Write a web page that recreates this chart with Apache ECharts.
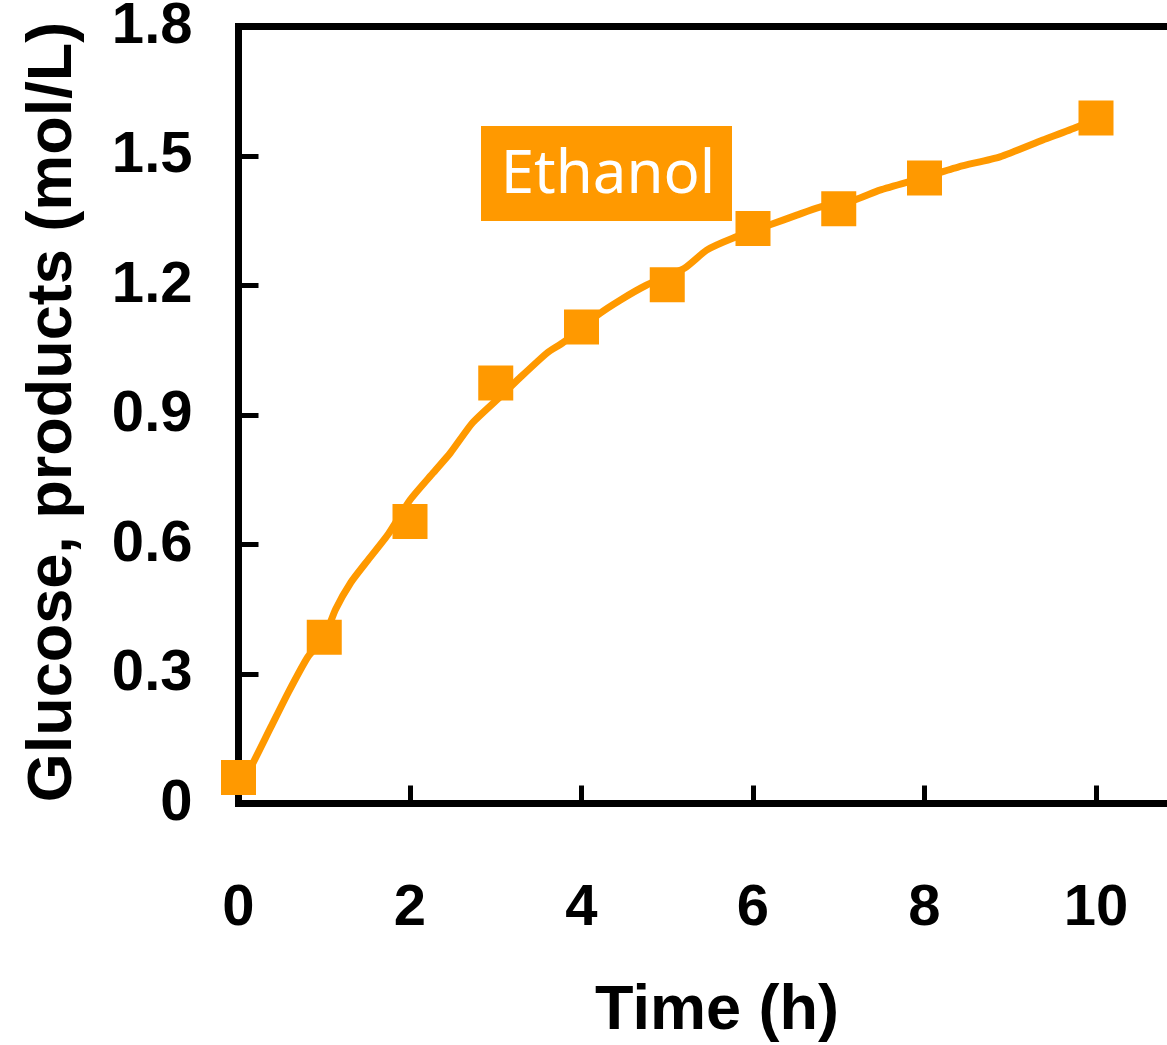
<!DOCTYPE html>
<html>
<head>
<meta charset="utf-8">
<title>Ethanol</title>
<script src="https://cdn.jsdelivr.net/npm/echarts@6/dist/echarts.min.js"></script>
<style>
    html, body { margin: 0; padding: 0; background: #fff; }
    #chart { width: 1167px; height: 1045px; }
</style>
</head>
<body>
<div id="chart"></div>
<script>
// measured points (h, mol/L)
let timeH = [0, 1, 2, 3, 4, 5, 6, 7, 8, 10]
let ethanol = [0.06, 0.385, 0.653, 0.974, 1.104, 1.202, 1.332, 1.378, 1.449, 1.588]

// fitted curve
let fitTime = [0.05, 0.11, 0.38, 0.58, 0.81, 1.0, 1.13, 1.31, 1.51, 1.75, 2.0, 2.27, 2.47, 2.73, 3.05, 3.28, 3.6, 3.78,
    4.19, 4.45, 4.75, 5.2, 5.46, 5.77, 6.19, 6.51, 6.77, 7.18, 7.48, 7.97, 8.4, 8.88, 9.38, 9.78, 9.95]
let fitEthanol = [0.055, 0.071, 0.178, 0.257, 0.34, 0.385, 0.449, 0.512, 0.564, 0.625, 0.703, 0.766, 0.812, 0.882, 0.942, 0.986, 1.044, 1.067,
    1.132, 1.166, 1.2, 1.24, 1.282, 1.31, 1.34, 1.363, 1.381, 1.398, 1.421, 1.449, 1.475, 1.498, 1.537, 1.567, 1.585]

let xTicks = [0, 2, 4, 6, 8, 10, 12]
let yTicks = ['0', '0.3', '0.6', '0.9', '1.2', '1.5', '1.8']

const orange = '#ff9900'
const labelFont = { color: '#000', fontSize: 58, fontWeight: 'bold', fontFamily: 'Liberation Sans, Arial, sans-serif' }

let option = {
    animation: false,
    backgroundColor: '#fff',
    grid: {
        left: 238.5,
        top: 26.5,
        width: 1029,   // 12 h wide, right edge falls outside the picture
        height: 777,
        outerBoundsMode: 'none',
        containLabel: false,
        show: true,
        borderColor: '#000',
        borderWidth: 7,
        backgroundColor: 'transparent'
    },
    xAxis: {
        type: 'value',
        min: xTicks[0],
        max: xTicks[xTicks.length - 1],
        interval: 2,
        splitLine: { show: false },
        axisLine: { lineStyle: { color: '#000', width: 7 } },
        axisTick: { inside: true, length: 18, lineStyle: { color: '#000', width: 5 } },
        axisLabel: Object.assign({ margin: 76 }, labelFont)
    },
    yAxis: {
        type: 'value',
        min: 0,
        max: 1.8,
        interval: 0.3,
        splitLine: { show: false },
        axisLine: { lineStyle: { color: '#000', width: 7 } },
        axisTick: { inside: true, length: 20, lineStyle: { color: '#000', width: 5 } },
        axisLabel: Object.assign({
            margin: 46,
            formatter: function (v) {
                let i = Math.round(v / 0.3)
                return yTicks[i]
            }
        }, labelFont)
    },
    series: [{
        name: 'fit',
        type: 'line',
        data: fitTime.map((t, i) => [t, fitEthanol[i]]),
        showSymbol: false,
        smooth: 0.2,
        lineStyle: { color: orange, width: 7 },
        z: 2
    }, {
        name: 'Ethanol',
        type: 'scatter',
        data: timeH.map((t, i) => [t, ethanol[i]]),
        symbol: 'rect',
        symbolSize: 35,
        itemStyle: { color: orange, opacity: 1 },
        z: 3
    }],
    graphic: [{
        type: 'rect',
        shape: { x: 481, y: 126, width: 251, height: 95 },
        style: { fill: orange },
        z: 10
    }, {
        type: 'text',
        x: 608,
        y: 176,
        style: {
            text: 'Ethanol',
            fill: '#fff',
            font: '60px "Noto Sans", sans-serif',
            align: 'center',
            verticalAlign: 'middle'
        },
        z: 11
    }, {
        type: 'text',
        x: 717,
        y: 1012,
        style: {
            text: 'Time (h)',
            fill: '#000',
            font: 'bold 63px "Liberation Sans", Arial, sans-serif',
            align: 'center',
            verticalAlign: 'middle'
        }
    }, {
        type: 'text',
        x: 54,
        y: 412,
        rotation: Math.PI / 2,
        style: {
            text: 'Glucose, products (mol/L)',
            fill: '#000',
            font: 'bold 63px "Liberation Sans", Arial, sans-serif',
            align: 'center',
            verticalAlign: 'middle'
        }
    }]
}

let chart = echarts.init(document.getElementById('chart'))
chart.setOption(option)
</script>
</body>
</html>
